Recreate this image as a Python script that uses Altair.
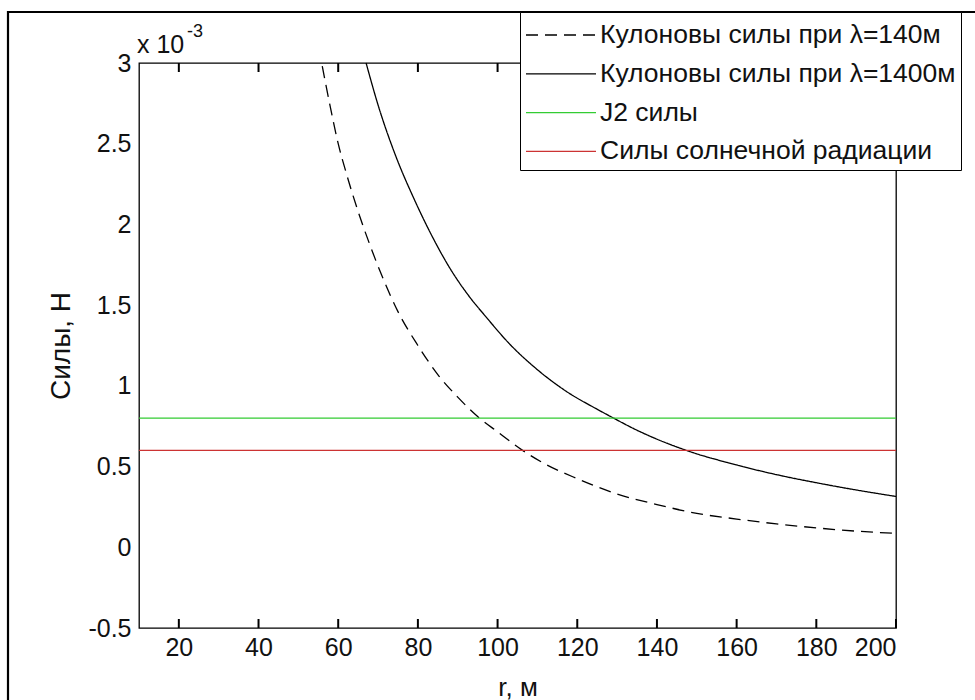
import altair as alt
import pandas as pd

# ---- data (forces in units of 1e-3 N, r in metres) ----
r_140 = [56, 58, 60, 62, 65, 68, 71, 75, 80, 85, 90, 95, 100, 106, 112, 120,
         130, 140, 150, 160, 170, 180, 190, 200]
f_140 = [2.98, 2.73, 2.50, 2.32, 2.08, 1.87, 1.68, 1.46, 1.25, 1.07, 0.93, 0.81,
         0.715, 0.605, 0.515, 0.425, 0.33, 0.265, 0.21, 0.175, 0.145, 0.12, 0.10, 0.086]

r_1400 = [67, 70, 74.5, 79, 83.5, 88, 93, 97, 103, 110, 117, 125, 128, 135, 148,
          160, 170, 180, 190, 200]
f_1400 = [3.0, 2.74, 2.42, 2.16, 1.93, 1.73, 1.55, 1.43, 1.26, 1.10, 0.97, 0.855,
          0.815, 0.725, 0.595, 0.51, 0.45, 0.40, 0.355, 0.315]

r_const = [10, 200]
f_j2 = [0.8, 0.8]
f_solar = [0.6, 0.6]

series_names = [
    "Кулоновы силы при λ=140м",
    "Кулоновы силы при λ=1400м",
    "J2 силы",
    "Силы солнечной радиации",
]
series_colors = ["#000000", "#000000", "#33cc33", "#cc3333"]
series_dashes = [[12, 7], [1, 0], [1, 0], [1, 0]]

x_ticks = [20, 40, 60, 80, 100, 120, 140, 160, 180, 200]
y_ticks = [-0.5, 0, 0.5, 1, 1.5, 2, 2.5, 3]
x_title = "r, м"
y_title = "Силы, Н"
exp_base = "x 10"
exp_power = "-3"

FONT = "Liberation Sans"
W, H = 757, 565
TICK = 9

rows = []
for xs, ys, name in [(r_140, f_140, series_names[0]),
                     (r_1400, f_1400, series_names[1]),
                     (r_const, f_j2, series_names[2]),
                     (r_const, f_solar, series_names[3])]:
    for xv, yv in zip(xs, ys):
        rows.append({"r": xv, "f": yv, "series": name})
df = pd.DataFrame(rows)

x_scale = alt.Scale(domain=[10, 200], nice=False, zero=False)
y_scale = alt.Scale(domain=[-0.5, 3], nice=False, zero=False)

x_main = alt.X("r:Q", scale=x_scale,
               axis=alt.Axis(values=x_ticks, title=x_title, ticks=False,
                             domain=False, grid=False, labelPadding=7,
                             titlePadding=14, labelFontSize=25, titleFontSize=26,
                             labelFont=FONT, titleFont=FONT, labelColor="#111111",
                             titleColor="#111111", titleFontWeight="normal"))
y_main = alt.Y("f:Q", scale=y_scale,
               axis=alt.Axis(values=y_ticks, title=y_title, ticks=False,
                             domain=False, grid=False, labelPadding=8,
                             titlePadding=12, labelFontSize=25, titleFontSize=28,
                             labelFont=FONT, titleFont=FONT, labelColor="#111111",
                             titleColor="#111111", titleFontWeight="normal",
                             labelExpr="'' + datum.value"))

legend_kw = dict(title=" ", titleFontSize=8, titlePadding=0,
                 orient="none", legendX=381, legendY=-51,
                 symbolType="stroke", symbolSize=4900, symbolStrokeWidth=1.3,
                 clipHeight=20, labelFontSize=26.5, labelFont=FONT,
                 labelColor="#111111", labelLimit=700, padding=5,
                 rowPadding=11.8, strokeColor="#000000", fillColor="#ffffff",
                 labelOffset=3, cornerRadius=0)

lines = alt.Chart(df).mark_line(strokeWidth=1.3, interpolate="monotone").encode(
    x=x_main,
    y=y_main,
    color=alt.Color("series:N", scale=alt.Scale(domain=series_names, range=series_colors),
                    legend=alt.Legend(**legend_kw)),
    strokeDash=alt.StrokeDash("series:N", scale=alt.Scale(domain=series_names, range=series_dashes),
                              legend=alt.Legend(**legend_kw)),
)

# inward-pointing ticks on the bottom and top edges
xt_df = pd.DataFrame({"r": x_ticks})
xt_bottom = alt.Chart(xt_df).mark_rule(color="#000000", strokeWidth=2).encode(
    x=alt.X("r:Q", scale=x_scale), y=alt.value(H), y2=alt.value(H - TICK))
xt_top = alt.Chart(xt_df).mark_rule(color="#000000", strokeWidth=2).encode(
    x=alt.X("r:Q", scale=x_scale), y=alt.value(0), y2=alt.value(TICK))

dummy = pd.DataFrame({"k": [0]})
frame_top = alt.Chart(dummy).mark_rule(color="black", strokeWidth=2.2).encode(
    x=alt.value(-131), x2=alt.value(W + 90), y=alt.value(-51))
frame_left = alt.Chart(dummy).mark_rule(color="black", strokeWidth=2.2).encode(
    x=alt.value(-131), y=alt.value(-52), y2=alt.value(H + 80))

exp_text = alt.Chart(dummy).mark_text(align="left", baseline="alphabetic", font=FONT,
                                      fontSize=25, color="#111111").encode(
    x=alt.value(-2), y=alt.value(-10), text=alt.value(exp_base))
exp_sup = alt.Chart(dummy).mark_text(align="left", baseline="alphabetic", font=FONT,
                                     fontSize=18, color="#111111").encode(
    x=alt.value(48), y=alt.value(-26), text=alt.value(exp_power))

chart = alt.layer(
    lines, xt_bottom, xt_top, frame_top, frame_left, exp_text, exp_sup,
).properties(
    width=W, height=H,
    padding={"left": 139, "top": 63, "right": 79, "bottom": 72},
    autosize=alt.AutoSizeParams(type="none"),
    background="white",
).configure_view(
    stroke="#000000", strokeWidth=1.3
)

chart.save("out.html", embed_options={"renderer": "svg", "actions": False})
